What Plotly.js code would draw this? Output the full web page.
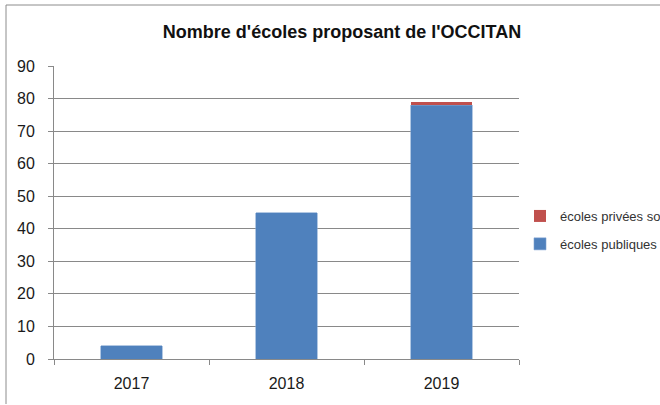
<!DOCTYPE html>
<html>
<head>
<meta charset="utf-8">
<script src="https://cdn.plot.ly/plotly-3.0.1.min.js"></script>
<style>
  body { margin: 0; background: #fff; overflow: hidden; }
  #chart { width: 660px; height: 405px; }
</style>
</head>
<body>
<div id="chart"></div>
<script>
// data
let annees = ['2017', '2018', '2019']
let publiques = [4, 45, 78]
let privees = [null, null, 1]

let axisGrey = '#898989'

// plot area in pixels, to place frame and legend
let L = 54, R = 519, T = 66, B = 359
let W = R - L, H = B - T
function px(x) { return (x - L) / W }
function py(y) { return (B - y) / H }

let tracePub = {
  x: annees,
  y: publiques,
  type: 'bar',
  name: 'écoles publiques',
  legendgroup: 'pub',
  legendrank: 2,
  marker: { color: '#4F81BD', line: { color: '#7EA3D1', width: 0.6 } }
}

let tracePriv = {
  x: annees,
  y: privees,
  type: 'bar',
  name: 'écoles privées sous contrat',
  legendgroup: 'priv',
  legendrank: 1,
  marker: { color: '#C0504D', line: { width: 0 } }
}

var layout = {
  width: 660,
  height: 405,
  margin: { l: L, r: 660 - R, t: T, b: 405 - B, autoexpand: false },
  barmode: 'stack',
  bargap: 0.606,
  paper_bgcolor: '#fff',
  plot_bgcolor: '#fff',
  font: { family: 'Liberation Sans, Arial, sans-serif', size: 16, color: '#1a1a1a' },
  title: {
    text: "<b>Nombre d'écoles proposant de l'OCCITAN</b>",
    font: { size: 18, color: '#111' },
    x: 342 / 660, xanchor: 'center',
    y: 1 - 32 / 405, yanchor: 'middle'
  },
  xaxis: {
    type: 'category',
    showline: true,
    linecolor: axisGrey,
    linewidth: 1,
    ticks: 'outside',
    tickson: 'boundaries',
    ticklen: 5,
    tickcolor: axisGrey,
    ticklabelstandoff: 10,
    showgrid: false
  },
  yaxis: {
    range: [0, 90],
    dtick: 10,
    showline: true,
    linecolor: axisGrey,
    linewidth: 1,
    ticks: 'outside',
    ticklen: 5,
    tickcolor: axisGrey,
    ticklabelstandoff: 10,
    gridcolor: axisGrey,
    gridwidth: 1,
    zeroline: false
  },
  showlegend: true,
  legend: {
    x: px(520),
    xanchor: 'left',
    y: py(201),
    yanchor: 'top',
    traceorder: 'grouped',
    tracegroupgap: 8,
    font: { size: 13, color: '#333' },
    bgcolor: 'rgba(0,0,0,0)'
  },
  shapes: [
    // outer frame of the chart (left and top edges)
    { type: 'line', xref: 'paper', yref: 'paper',
      x0: px(6), x1: px(6), y0: py(5), y1: py(404),
      line: { color: '#8c8c8c', width: 1 } },
    { type: 'line', xref: 'paper', yref: 'paper',
      x0: px(6), x1: px(700), y0: py(5), y1: py(5),
      line: { color: '#8c8c8c', width: 1 } }
  ]
}

Plotly.newPlot('chart', [tracePub, tracePriv], layout, { staticPlot: true })
</script>
</body>
</html>
